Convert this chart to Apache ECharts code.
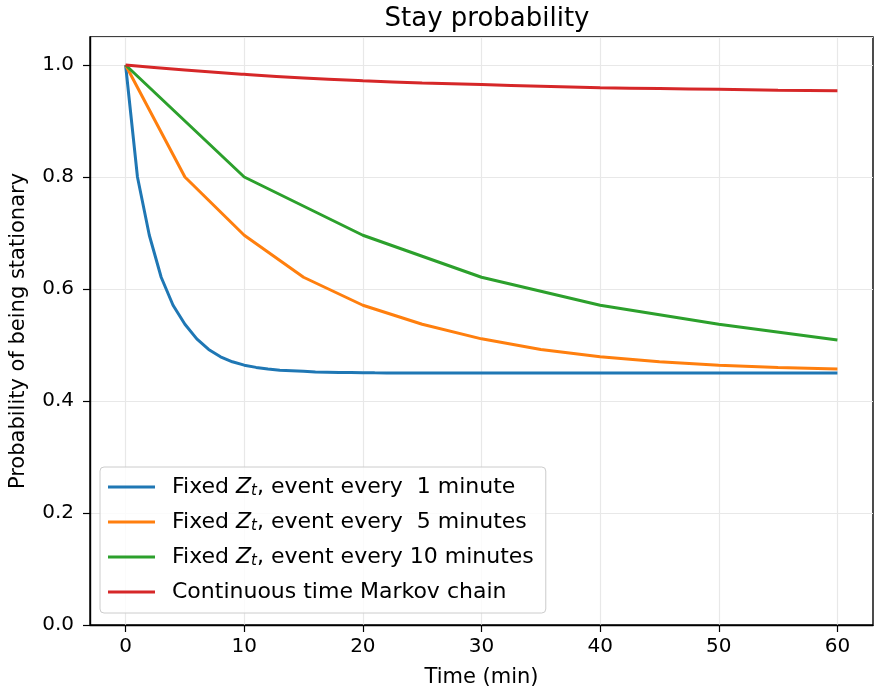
<!DOCTYPE html>
<html>
<head>
<meta charset="utf-8">
<script src="https://cdn.jsdelivr.net/npm/echarts@6/dist/echarts.min.js"></script>
<style>
  html, body { margin: 0; padding: 0; background: #fff; }
  #chart { width: 874px; height: 693px; }
</style>
</head>
<body>
<div id="chart"></div>
<script>
// time in minutes
const tOneMin = [];
for (let i = 0; i <= 60; i++) tOneMin.push(i);
const tFiveMin = [0, 5, 10, 15, 20, 25, 30, 35, 40, 45, 50, 55, 60];
const tTenMin = [0, 10, 20, 30, 40, 50, 60];
const tMarkov = [0, 5, 10, 15, 20, 25, 30, 35, 40, 45, 50, 55, 60];

const everyOneMin = [
  1.0, 0.8, 0.696, 0.621, 0.571, 0.537, 0.511, 0.492, 0.479, 0.470,
  0.464, 0.460, 0.457, 0.455, 0.454, 0.453, 0.452, 0.4515, 0.451, 0.4508,
  0.4505, 0.4503, 0.4502, 0.4501, 0.45, 0.45, 0.45, 0.45, 0.45, 0.45,
  0.45, 0.45, 0.45, 0.45, 0.45, 0.45, 0.45, 0.45, 0.45, 0.45,
  0.45, 0.45, 0.45, 0.45, 0.45, 0.45, 0.45, 0.45, 0.45, 0.45,
  0.45, 0.45, 0.45, 0.45, 0.45, 0.45, 0.45, 0.45, 0.45, 0.45,
  0.45
];
const everyFiveMin = [1.0, 0.8, 0.696, 0.621, 0.571, 0.537, 0.511, 0.492, 0.479, 0.470, 0.464, 0.460, 0.457];
const everyTenMin = [1.0, 0.8, 0.696, 0.621, 0.571, 0.537, 0.509];
const markovChain = [1.0, 0.991, 0.9834, 0.977, 0.972, 0.968, 0.965, 0.962, 0.9595, 0.958, 0.9565, 0.955, 0.954];

const xTicks = [0, 10, 20, 30, 40, 50, 60];
const seriesNames = [
  "Fixed Z_t, event every  1 minute",
  "Fixed Z_t, event every  5 minutes",
  "Fixed Z_t, event every 10 minutes",
  "Continuous time Markov chain"
];
const colors = ["#1f77b4", "#ff7f0e", "#2ca02c", "#d62728"];

const pairs = (xs, ys) => xs.map((x, i) => [x, ys[i]]);

const font = "DejaVu Sans";
const chart = echarts.init(document.getElementById("chart"));

const lineSeries = (name, data, color, smooth) => ({
  name: name,
  type: "line",
  data: data,
  smooth: smooth,
  showSymbol: false,
  symbol: "none",
  lineStyle: { color: color, width: 3 },
  itemStyle: { color: color }
});

chart.setOption({
  animation: false,
  backgroundColor: "#fff",
  title: {
    text: "Stay probability",
    left: 482,
    textAlign: "center",
    top: 1,
    textStyle: { fontFamily: font, fontSize: 26, fontWeight: "normal", color: "#000" }
  },
  grid: {
    left: 90,
    right: 1,
    top: 37,
    bottom: 68,
    outerBoundsMode: "none",
    containLabel: false,
    show: true,
    borderColor: "#000",
    borderWidth: 1.4
  },
  legend: {
    orient: "vertical",
    left: 100,
    top: 467,
    data: seriesNames,
    icon: "rect",
    itemWidth: 47,
    itemHeight: 3,
    itemGap: 9,
    backgroundColor: "rgba(255,255,255,0.8)",
    borderColor: "#cccccc",
    borderWidth: 1,
    borderRadius: 4,
    padding: [7, 12, 8, 8],
    formatter: name => name.replace("Z_t", "{i|Z}{s|t}"),
    textStyle: {
      fontFamily: font,
      fontSize: 22,
      color: "#000",
      lineHeight: 26,
      padding: [0, 0, 0, 12],
      rich: {
        i: { fontFamily: font, fontSize: 22, fontStyle: "italic", color: "#000" },
        s: { fontFamily: font, fontSize: 15, fontStyle: "italic", color: "#000", padding: [9, 0, 0, 0] }
      }
    }
  },
  xAxis: {
    type: "value",
    min: -3,
    max: 63,
    name: "Time (min)",
    nameLocation: "middle",
    nameGap: 42,
    nameTextStyle: { fontFamily: font, fontSize: 21, color: "#000" },
    axisLine: { show: true, onZero: false, lineStyle: { color: "#000", width: 1.4 } },
    axisTick: { show: true, customValues: xTicks, length: 7, lineStyle: { color: "#000", width: 1.2 } },
    axisLabel: { customValues: xTicks, fontFamily: font, fontSize: 20, color: "#000", margin: 12 },
    splitLine: { show: true, lineStyle: { color: "#e8e8e8", width: 1.2 } }
  },
  yAxis: {
    type: "value",
    min: 0,
    max: 1.05,
    interval: 0.2,
    name: "Probability of being stationary",
    nameLocation: "middle",
    nameGap: 61,
    nameTextStyle: { fontFamily: font, fontSize: 21, color: "#000" },
    axisLine: { show: true, onZero: false, lineStyle: { color: "#000", width: 1.4 } },
    axisTick: { show: true, length: 7, lineStyle: { color: "#000", width: 1.2 } },
    axisLabel: {
      showMaxLabel: false,
      fontFamily: font,
      fontSize: 20,
      color: "#000",
      margin: 16,
      formatter: v => v.toFixed(1)
    },
    splitLine: { show: true, lineStyle: { color: "#e8e8e8", width: 1.2 } }
  },
  series: [
    lineSeries(seriesNames[0], pairs(tOneMin, everyOneMin), colors[0], false),
    lineSeries(seriesNames[1], pairs(tFiveMin, everyFiveMin), colors[1], false),
    lineSeries(seriesNames[2], pairs(tTenMin, everyTenMin), colors[2], false),
    lineSeries(seriesNames[3], pairs(tMarkov, markovChain), colors[3], true)
  ]
});
</script>
</body>
</html>
